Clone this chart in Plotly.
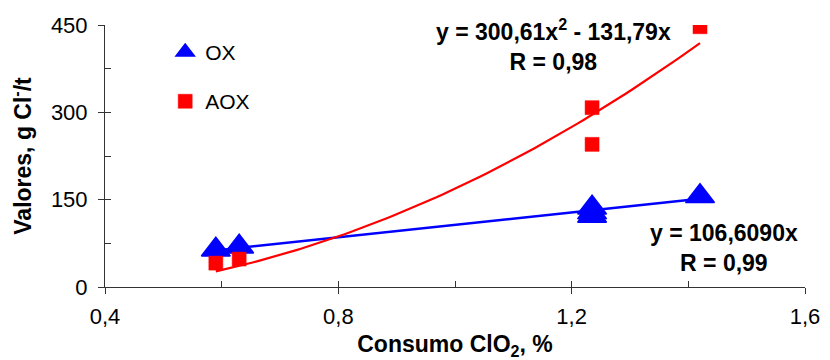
import numpy as np
import plotly.graph_objects as go

# ClO2 consumption (%) and measured chlorinated organics (g Cl-/t)
clo2_ox = [0.59, 0.63, 1.235, 1.235, 1.235, 1.42]
ox_values = [64, 69, 136, 128, 122, 156]
clo2_aox = [0.59, 0.63, 1.235, 1.235, 1.42]
aox_values = [41, 48, 308, 245, 447]

# trendline coefficients, as given by the equations on the chart
ox_slope = 106.609
aox_a2 = 300.61
aox_a1 = -131.79

x_ticks = [0.4, 0.8, 1.2, 1.6]
x_tick_labels = ["0,4", "0,8", "1,2", "1,6"]
y_ticks = [0, 150, 300, 450]
y_tick_labels = ["0", "150", "300", "450"]

FONT = "Liberation Sans, Arial, sans-serif"
BLUE = "#0000FF"
RED = "#FF0000"
AXIS = "#333333"

fit_ox_x = np.linspace(min(clo2_ox), max(clo2_ox), 50)
fit_ox_y = ox_slope * fit_ox_x
fit_aox_x = np.linspace(min(clo2_aox), max(clo2_aox), 80)
fit_aox_y = aox_a2 * fit_aox_x ** 2 + aox_a1 * fit_aox_x

fig = go.Figure()

fig.add_trace(go.Scatter(x=fit_ox_x, y=fit_ox_y, mode="lines",
                         line=dict(color=BLUE, width=2.5),
                         showlegend=False, hoverinfo="skip"))
fig.add_trace(go.Scatter(x=fit_aox_x, y=fit_aox_y, mode="lines",
                         line=dict(color=RED, width=2.2),
                         showlegend=False, hoverinfo="skip"))
fig.add_trace(go.Scatter(x=clo2_ox, y=ox_values, mode="markers", name="OX",
                         legendgroup="ox",
                         marker=dict(symbol="triangle-up", size=25, color=BLUE,
                                     line=dict(color=BLUE, width=1.5))))
fig.add_trace(go.Scatter(x=clo2_aox, y=aox_values, mode="markers", name="AOX",
                         legendgroup="aox",
                         marker=dict(symbol="square", size=14, color=RED,
                                     line=dict(color=RED, width=0.5))))
# empty trace that carries the overlay axes used for the inner tick marks
fig.add_trace(go.Scatter(x=[], y=[], xaxis="x2", yaxis="y2",
                         showlegend=False, hoverinfo="skip"))

fig.update_layout(
    width=830, height=360,
    margin=dict(l=105, r=25, t=25, b=73, autoexpand=False),
    paper_bgcolor="white", plot_bgcolor="white",
    font=dict(family=FONT, color="black"),
    showlegend=True,
    legend=dict(x=0.086, y=0.974, xanchor="left", yanchor="top",
                bgcolor="rgba(0,0,0,0)", font=dict(size=21, family=FONT),
                traceorder="grouped", tracegroupgap=19),
    xaxis=dict(range=[0.4, 1.6], tickvals=x_ticks, ticktext=x_tick_labels,
               ticks="outside", ticklen=6, tickcolor=AXIS, tickwidth=1,
               showline=True, linecolor=AXIS, linewidth=1, automargin=False,
               showgrid=False, zeroline=False, ticklabelstandoff=4,
               tickfont=dict(size=22, family=FONT),
               title=dict(text="<b>Consumo ClO<sub>2</sub>, %</b>",
                          font=dict(size=23, family=FONT), standoff=12)),
    yaxis=dict(range=[0, 450], tickvals=y_ticks, ticktext=y_tick_labels,
               ticks="outside", ticklen=6, tickcolor=AXIS, tickwidth=1,
               showline=True, linecolor=AXIS, linewidth=1, automargin=False,
               showgrid=False, zeroline=False, ticklabelstandoff=6,
               tickfont=dict(size=22, family=FONT),
               title=dict(text="<b>Valores, g Cl<sup>-</sup>/t</b>",
                          font=dict(size=23, family=FONT), standoff=12)),
    xaxis2=dict(overlaying="x", anchor="y", side="bottom", range=[0.4, 1.6],
                tick0=0.4, dtick=0.2, ticks="inside", ticklen=6,
                tickcolor=AXIS, tickwidth=1, showticklabels=False,
                automargin=False,
                showline=False, showgrid=False, zeroline=False),
    yaxis2=dict(overlaying="y", anchor="x", side="left", range=[0, 450],
                tick0=0, dtick=75, ticks="inside", ticklen=6,
                tickcolor=AXIS, tickwidth=1, showticklabels=False,
                automargin=False,
                showline=False, showgrid=False, zeroline=False),
    annotations=[
        dict(text="<b>y = 300,61x<sup>2</sup> - 131,79x<br>R = 0,98</b>",
             xref="paper", yref="paper", x=0.641, y=0.925,
             xanchor="center", yanchor="middle", showarrow=False,
             align="center", font=dict(size=23, family=FONT, color="black")),
        dict(text="<b>y = 106,6090x<br>R = 0,99</b>",
             xref="paper", yref="paper", x=0.884, y=0.15,
             xanchor="center", yanchor="middle", showarrow=False,
             align="center", font=dict(size=23, family=FONT, color="black")),
    ],
)

fig.write_html("out.html")
